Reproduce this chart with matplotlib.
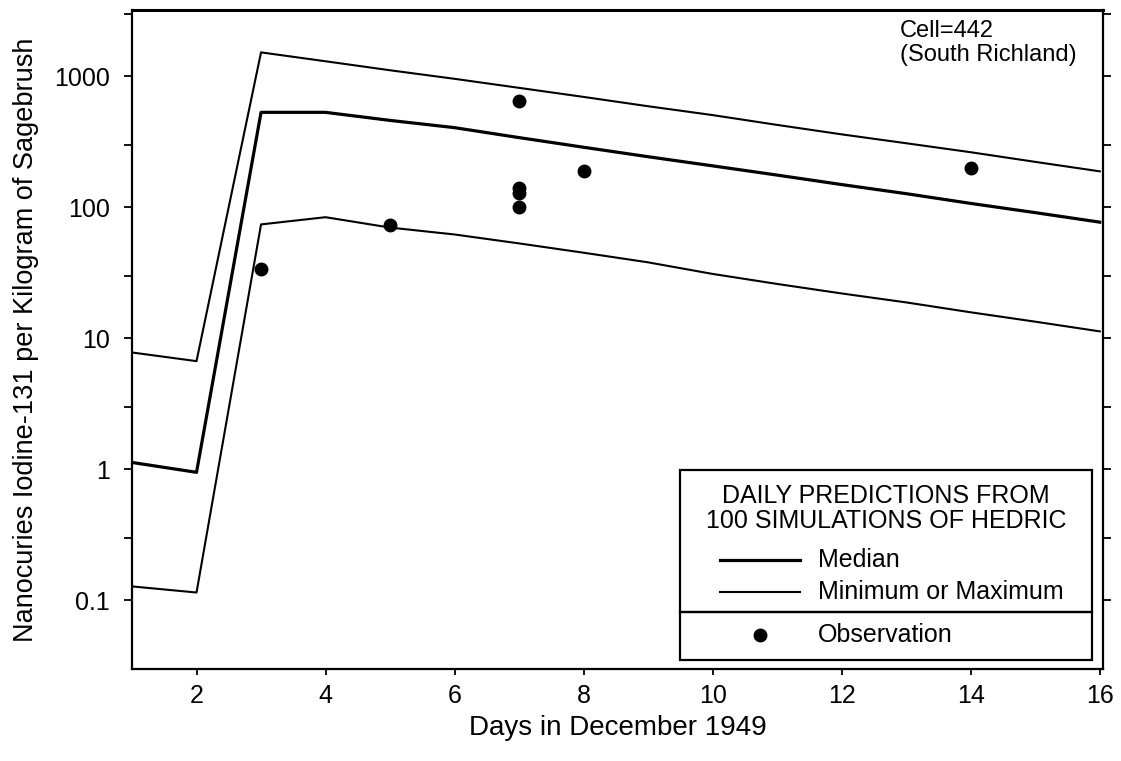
#!/usr/bin/env python3
"""
Iodine-131 in sagebrush, cell 442 (South Richland), December 1949.
HEDRIC daily predictions (median, min, max of 100 runs) against field observations.
"""
import matplotlib
matplotlib.use("Agg")
import matplotlib.pyplot as plt
from matplotlib.patches import Rectangle
from matplotlib.lines import Line2D

plt.rcParams["font.family"] = ["Liberation Sans", "DejaVu Sans"]

W_PX, H_PX, DPI = 1121, 761, 100

DAYS = [1, 2, 3, 4, 5, 6, 7, 8, 9, 10, 11, 12, 13, 14, 15, 16]
MAX_NCI = [7.8, 6.7, 1520, 1300, 1110, 955, 815, 695, 590, 505, 425, 360, 308, 263, 222, 188]
MEDIAN_NCI = [1.13, 0.95, 530, 530, 460, 405, 340, 287, 243, 207, 176, 149, 127, 107, 91, 77]
MIN_NCI = [0.128, 0.115, 74, 84, 70, 62, 53, 45, 38, 31, 26, 22, 18.8, 15.8, 13.4, 11.3]

OBS_DAY = [3, 5, 7, 7, 7, 7, 8, 14]
OBS_NCI = [34, 73, 645, 140, 128, 100, 188, 199]

Y_MAJOR = [0.1, 1, 10, 100, 1000]
Y_MAJOR_LABELS = ["0.1", "1", "10", "100", "1000"]
Y_MINOR = [0.3, 3, 30, 300, 3000]
X_TICKS = [2, 4, 6, 8, 10, 12, 14, 16]

LW_MEDIAN = 2.3
LW_RANGE = 1.5
FS = 18

fig = plt.figure(figsize=(W_PX / DPI, H_PX / DPI), dpi=DPI)
fig.patch.set_facecolor("white")
ax = fig.add_axes([132 / W_PX, 92 / H_PX, 971 / W_PX, 659 / H_PX])

ax.plot(DAYS, MAX_NCI, color="black", lw=LW_RANGE)
ax.plot(DAYS, MEDIAN_NCI, color="black", lw=LW_MEDIAN)
ax.plot(DAYS, MIN_NCI, color="black", lw=LW_RANGE)
ax.plot(OBS_DAY, OBS_NCI, "o", color="black", ms=9, ls="none")

ax.set_yscale("log")
ax.set_ylim(0.03, 3200)
ax.set_xlim(1, 16.05)

ax.set_yticks(Y_MAJOR)
ax.set_yticklabels(Y_MAJOR_LABELS, fontsize=FS)
ax.set_yticks(Y_MINOR, minor=True)
ax.set_yticklabels([], minor=True)
ax.set_xticks(X_TICKS)
ax.set_xticklabels([str(t) for t in X_TICKS], fontsize=FS)
ax.xaxis.set_minor_locator(matplotlib.ticker.NullLocator())

ax.tick_params(axis="y", which="both", direction="out", length=6, width=1.3,
               right=True, pad=10)
ax.tick_params(axis="x", which="major", direction="out", length=4, width=1.3, pad=7)

for side in ("left", "bottom", "right"):
    ax.spines[side].set_linewidth(1.6)
ax.spines["top"].set_linewidth(2.2)

ax.set_ylabel("Nanocuries Iodine-131 per Kilogram of Sagebrush", fontsize=19.5, labelpad=11)
ax.set_xlabel("Days in December 1949", fontsize=20, labelpad=5)

ax.text(0.791, 0.985, "Cell=442\n(South Richland)", transform=ax.transAxes,
        fontsize=17, ha="left", va="top", linespacing=1.15)

# legend box: prediction block on top, observation row below a divider
x0, x1 = 0.564, 0.989
y_top, y_div, y_bot = 0.302, 0.0865, 0.0137
for yb, yt in ((y_div, y_top), (y_bot, y_div)):
    ax.add_patch(Rectangle((x0, yb), x1 - x0, yt - yb, transform=ax.transAxes,
                           fill=False, edgecolor="black", lw=1.6, zorder=5))
ax.text((x0 + x1) / 2, 0.244, "DAILY PREDICTIONS FROM\n100 SIMULATIONS OF HEDRIC",
        transform=ax.transAxes, fontsize=FS, ha="center", va="center",
        linespacing=1.05, zorder=6)

hx0, hx1, tx = 0.606, 0.688, 0.706
rows = [(0.165, "Median", LW_MEDIAN), (0.117, "Minimum or Maximum", LW_RANGE)]
for yy, label, lw in rows:
    ax.add_line(Line2D([hx0, hx1], [yy, yy], transform=ax.transAxes,
                       color="black", lw=lw, zorder=6))
    ax.text(tx, yy, label, transform=ax.transAxes, fontsize=FS,
            ha="left", va="center", zorder=6)
ax.add_line(Line2D([0.647], [0.052], transform=ax.transAxes, marker="o",
                   ms=9, color="black", ls="none", zorder=6))
ax.text(tx, 0.052, "Observation", transform=ax.transAxes, fontsize=FS,
        ha="left", va="center", zorder=6)

fig.savefig("out.png", dpi=DPI, facecolor="white")
